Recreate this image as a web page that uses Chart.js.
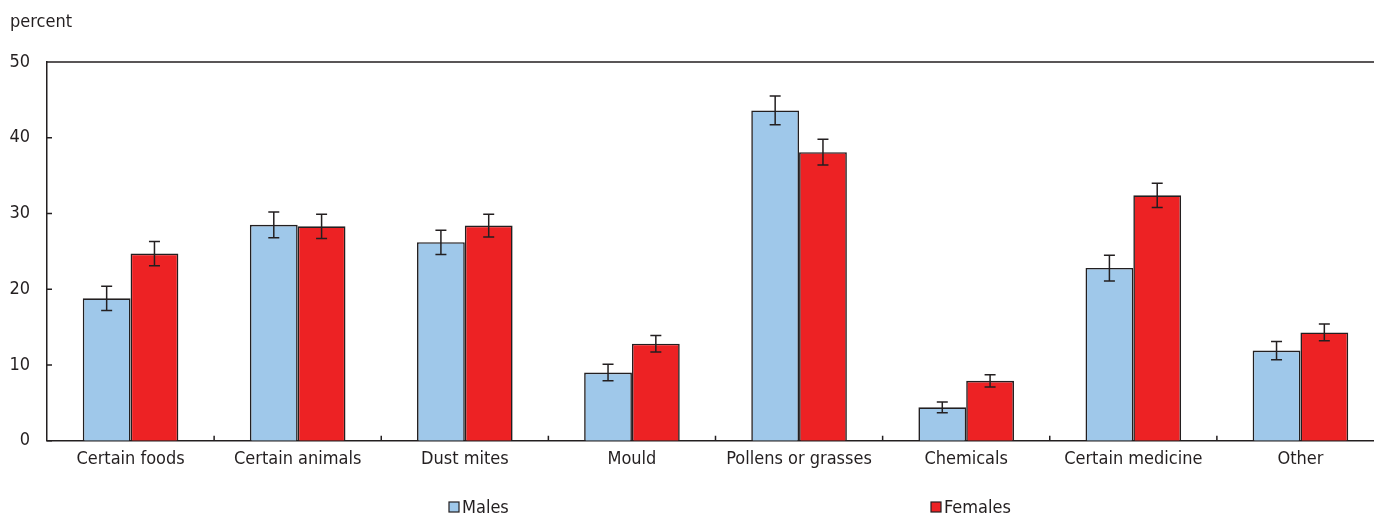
<!DOCTYPE html>
<html>
<head>
<meta charset="utf-8">
<script src="https://cdn.jsdelivr.net/npm/chart.js@4"></script>
<style>
  body { margin: 0; overflow: hidden; background: #fff; }
</style>
</head>
<body>
<canvas id="chart" width="1384" height="516"></canvas>
<script>
const categories = ["Certain foods", "Certain animals", "Dust mites", "Mould", "Pollens or grasses", "Chemicals", "Certain medicine", "Other"];
const males = [18.8, 28.5, 26.2, 9.0, 43.6, 4.4, 22.8, 11.9];
const malesErr = [1.6, 1.7, 1.6, 1.1, 1.9, 0.7, 1.7, 1.2];
const females = [24.7, 28.3, 28.4, 12.8, 38.1, 7.9, 32.4, 14.3];
const femalesErr = [1.6, 1.6, 1.5, 1.1, 1.7, 0.8, 1.6, 1.1];
const yTicks = [0, 10, 20, 30, 40, 50];

const FONT = "'Liberation Sans Narrow', 'DejaVu Sans Condensed', 'Arial Narrow', sans-serif";
const SIZE = 18;
const INK = '#231f20';
const BLUE = '#9fc8ea';
const RED = '#ed2224';

// error bars, inward ticks, top frame line, unit label and legend
const extras = {
  id: 'extras',
  afterDatasetsDraw(chart) {
    const ctx = chart.ctx;
    const y = chart.scales.y;
    const errs = [malesErr, femalesErr];
    ctx.save();
    ctx.strokeStyle = INK;
    ctx.lineWidth = 1.5;
    chart.data.datasets.forEach((ds, d) => {
      chart.getDatasetMeta(d).data.forEach((bar, i) => {
        const top = y.getPixelForValue(ds.data[i] + errs[d][i]);
        const bot = y.getPixelForValue(ds.data[i] - errs[d][i]);
        ctx.beginPath();
        ctx.moveTo(bar.x, top); ctx.lineTo(bar.x, bot);
        ctx.moveTo(bar.x - 5.5, top); ctx.lineTo(bar.x + 5.5, top);
        ctx.moveTo(bar.x - 5.5, bot); ctx.lineTo(bar.x + 5.5, bot);
        ctx.stroke();
      });
    });
    ctx.restore();
  },
  afterDraw(chart) {
    const ctx = chart.ctx;
    const area = chart.chartArea;
    const x = chart.scales.x;
    const y = chart.scales.y;
    ctx.save();
    ctx.strokeStyle = INK;
    ctx.lineWidth = 1.5;
    ctx.beginPath();
    // top frame line
    ctx.moveTo(area.left, area.top); ctx.lineTo(area.right, area.top);
    // y ticks pointing inward
    yTicks.forEach(v => {
      const py = y.getPixelForValue(v);
      ctx.moveTo(area.left, py); ctx.lineTo(area.left + 5, py);
    });
    // x ticks between categories
    for (let i = 1; i < categories.length; i++) {
      const px = (x.getPixelForValue(i - 1) + x.getPixelForValue(i)) / 2;
      ctx.moveTo(px, area.bottom); ctx.lineTo(px, area.bottom - 5);
    }
    ctx.stroke();

    ctx.fillStyle = INK;
    ctx.font = SIZE + 'px ' + FONT;
    ctx.textBaseline = 'alphabetic';
    ctx.textAlign = 'left';
    ctx.fillText('percent', 10, 27);

    // legend
    const items = [['Males', BLUE, 449], ['Females', RED, 931]];
    ctx.textBaseline = 'middle';
    items.forEach(([label, color, lx]) => {
      ctx.fillStyle = color;
      ctx.fillRect(lx, 502, 10, 10);
      ctx.lineWidth = 1.2;
      ctx.strokeRect(lx, 502, 10, 10);
      ctx.fillStyle = INK;
      ctx.fillText(label, lx + 13, 508);
    });
    ctx.restore();
  }
};

new Chart(document.getElementById('chart'), {
  type: 'bar',
  data: {
    labels: categories,
    datasets: [
      { label: 'Males', data: males, backgroundColor: BLUE, borderColor: INK, borderWidth: 1.6 },
      { label: 'Females', data: females, backgroundColor: RED, borderColor: INK, borderWidth: 1.6 }
    ]
  },
  options: {
    responsive: false,
    animation: false,
    devicePixelRatio: 1,
    layout: { padding: { top: 62, left: 0, right: 0, bottom: 0 } },
    datasets: { bar: { categoryPercentage: 0.572, barPercentage: 1.0 } },
    plugins: { legend: { display: false }, tooltip: { enabled: false } },
    scales: {
      x: {
        grid: { display: false, drawTicks: false },
        border: { display: true, color: INK, width: 1.5 },
        ticks: { color: INK, font: { family: FONT, size: SIZE }, padding: 8, maxRotation: 0 },
        afterFit(scale) { scale.height = 75.3; }
      },
      y: {
        min: 0, max: 50,
        grid: { display: false, drawTicks: false },
        border: { display: true, color: INK, width: 1.5 },
        ticks: { color: INK, font: { family: FONT, size: SIZE }, padding: 17, stepSize: 10 },
        afterFit(scale) { scale.width = 47; }
      }
    }
  },
  plugins: [extras]
});
</script>
</body>
</html>
